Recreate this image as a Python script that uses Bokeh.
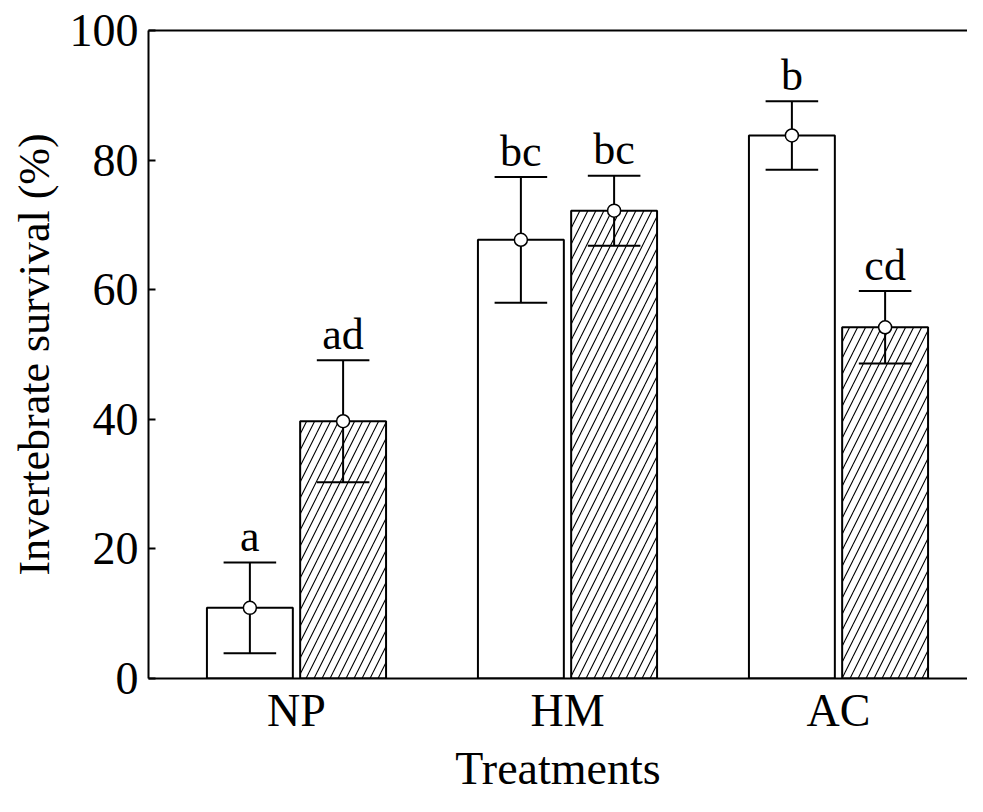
from bokeh.plotting import figure
from bokeh.models import LinearAxis, FixedTicker, Range1d, ColumnDataSource
from bokeh.core.properties import value
from bokeh.embed import file_html
from bokeh.resources import INLINE

groups = ["NP", "HM", "AC"]
group_pos = [1, 2, 3]
open_mean = [10.9, 67.7, 83.8]
open_err = [7.0, 9.7, 5.3]
hatched_mean = [39.7, 72.2, 54.2]
hatched_err = [9.4, 5.4, 5.6]
open_letters = ["a", "bc", "b"]
hatched_letters = ["ad", "bc", "cd"]
y_ticks = [0, 20, 40, 60, 80, 100]

FONT = "Liberation Serif"
offset = 0.172
bar_w = 0.317
cap_half = 0.097
label_pad = 4.0

p = figure(width=967, height=796, output_backend="svg", toolbar_location=None,
           x_range=Range1d(0.4539, 3.476), y_range=Range1d(0, 100),
           min_border_left=148, min_border_right=0, min_border_top=30,
           min_border_bottom=106)
p.outline_line_color = None
p.grid.grid_line_color = None
p.background_fill_color = "white"
p.border_fill_color = "white"

def series(means, errs, letters, shift):
    xs = [g + shift for g in group_pos]
    hi = [m + e for m, e in zip(means, errs)]
    return ColumnDataSource(dict(
        x=xs, top=means,
        lo=[m - e for m, e in zip(means, errs)],
        hi=hi, ly=[h + label_pad for h in hi],
        cl=[x - cap_half for x in xs], cr=[x + cap_half for x in xs],
        lab=letters))

src_o = series(open_mean, open_err, open_letters, -offset)
src_h = series(hatched_mean, hatched_err, hatched_letters, offset)

p.vbar(x="x", top="top", bottom=0, width=bar_w, source=src_o,
       fill_color="white", line_color="black", line_width=2)
p.vbar(x="x", top="top", bottom=0, width=bar_w, source=src_h,
       fill_color="white", line_color="black", line_width=2,
       hatch_pattern="/", hatch_color="black", hatch_scale=16, hatch_weight=1.1)

for src in (src_o, src_h):
    p.segment(x0="x", y0="lo", x1="x", y1="hi", source=src, line_color="black", line_width=2)
    p.segment(x0="cl", y0="hi", x1="cr", y1="hi", source=src, line_color="black", line_width=2)
    p.segment(x0="cl", y0="lo", x1="cr", y1="lo", source=src, line_color="black", line_width=2)
    p.scatter(x="x", y="top", source=src, size=13, marker="circle",
              fill_color="white", line_color="black", line_width=1.5)
    p.text(x="x", y="ly", text="lab", source=src, text_align="center",
           text_baseline="alphabetic",
           text_font=value(FONT), text_font_size="44px", text_color="black")

# y axis
yax = p.yaxis[0]
yax.ticker = FixedTicker(ticks=y_ticks)
yax.axis_label = "Invertebrate survival (%)"
yax.axis_label_text_font = FONT
yax.axis_label_text_font_size = "44px"
yax.axis_label_text_font_style = "normal"
yax.axis_label_text_color = "black"
yax.axis_label_standoff = 8
yax.major_label_text_font = FONT
yax.major_label_text_font_size = "46px"
yax.major_label_text_color = "black"
yax.major_label_standoff = 10
yax.major_tick_in = 7
yax.major_tick_out = 0
yax.minor_tick_line_color = None
yax.axis_line_width = 2
yax.major_tick_line_width = 2

# x axis
xax = p.xaxis[0]
xax.ticker = FixedTicker(ticks=group_pos)
xax.major_label_overrides = {g: lab for g, lab in zip(group_pos, groups)}
xax.axis_label = "Treatments"
xax.axis_label_text_font = FONT
xax.axis_label_text_font_size = "46px"
xax.axis_label_text_font_style = "normal"
xax.axis_label_text_color = "black"
xax.axis_label_standoff = 4
xax.major_label_text_font = FONT
xax.major_label_text_font_size = "46px"
xax.major_label_text_color = "black"
xax.major_label_standoff = 0
xax.major_tick_line_color = None
xax.minor_tick_line_color = None
xax.axis_line_width = 2

# top border line
top = LinearAxis(ticker=FixedTicker(ticks=[]), major_tick_line_color=None,
                 minor_tick_line_color=None, major_label_text_font_size="0px",
                 major_label_standoff=0, axis_line_width=2)
p.add_layout(top, "above")

open("out.html", "w").write(file_html(p, INLINE))
